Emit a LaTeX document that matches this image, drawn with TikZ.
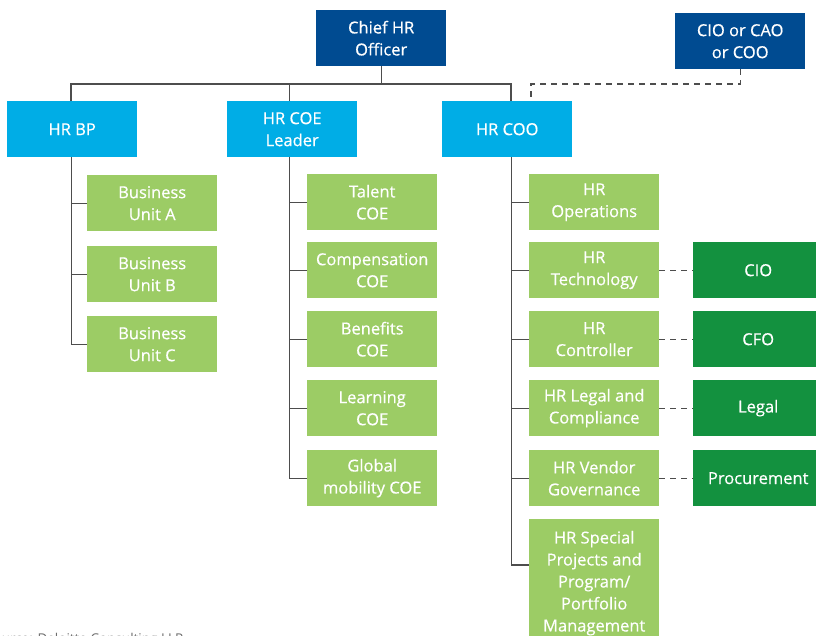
\documentclass[tikz,border=0pt]{standalone}
\usepackage{fontspec}
\setmainfont{Open Sans}
\newfontfamily\boxfont{Open Sans}[FakeBold=0.5]
\definecolor{dblue}{HTML}{004B91}
\definecolor{lblue}{HTML}{00ADE6}
\definecolor{lgreen}{HTML}{9CCC65}
\definecolor{dgreen}{HTML}{13913F}
\definecolor{conn}{HTML}{4D4D4D}
\definecolor{srcgray}{HTML}{6D6D6D}
\begin{document}
\begin{tikzpicture}[x=1pt,y=-1pt,
  box/.style={rectangle, inner sep=0pt, minimum width=130pt, minimum height=56pt,
    align=center, text=white, font=\boxfont\fontsize{16.5}{22}\selectfont, anchor=north west},
  topbox/.style={box, fill=dblue},
  midbox/.style={box, fill=lblue},
  unitbox/.style={box, fill=lgreen},
  extbox/.style={box, fill=dgreen},
  solidline/.style={draw=conn, line width=1.3pt},
  dashline/.style={draw=conn, line width=1.3pt, dash pattern=on 6pt off 5pt}]
\useasboundingbox (0,0) rectangle (816,635);
% top level
\node[topbox] (chief) at (316,10) {Chief HR\\Officer};
\node[topbox] (cio) at (675,13) {CIO or CAO\\or COO};
% second level
\node[midbox] (hrbp) at (7,101) {HR BP};
\node[midbox] (coel) at (227,101) {HR COE\\Leader};
\node[midbox] (hrcoo) at (442,101) {HR COO};
% HR BP children
\node[unitbox] (bua) at (87,175) {Business\\Unit A};
\node[unitbox] (bub) at (87,246) {Business\\Unit B};
\node[unitbox] (buc) at (87,316) {Business\\Unit C};
% COE children
\node[unitbox] (talent) at (307,174) {Talent\\COE};
\node[unitbox] (comp) at (307,242) {Compensation\\COE};
\node[unitbox] (benef) at (307,311) {Benefits\\COE};
\node[unitbox] (learn) at (307,380) {Learning\\COE};
\node[unitbox] (glob) at (307,450) {Global\\mobility COE};
% COO children
\node[unitbox] (ops) at (529,174) {HR\\Operations};
\node[unitbox] (tech) at (529,242) {HR\\Technology};
\node[unitbox] (ctrl) at (529,311) {HR\\Controller};
\node[unitbox] (legal) at (529,380) {HR Legal and\\Compliance};
\node[unitbox] (vend) at (529,450) {HR Vendor\\Governance};
\node[unitbox, minimum height=124pt, text depth=0pt] (spec) at (529,519) {HR Special\\Projects and\\Program/\\Portfolio\\Management};
% external
\node[extbox] (xcio) at (693,242) {CIO};
\node[extbox] (xcfo) at (693,311) {CFO};
\node[extbox] (xlegal) at (693,380) {Legal};
\node[extbox] (xproc) at (693,450) {Procurement};
% source (cut off at the lower edge, as in the reference)
\node[anchor=base west, text=srcgray, font=\fontsize{13.5}{16}\selectfont, inner sep=0pt] (src) at (-14,643.5) {Source: Deloitte Consulting LLP};
% coordinates
\coordinate (busL) at (71,84);
\coordinate (busM) at (289.5,84);
\coordinate (busR) at (511,84);
\coordinate (t1) at ([xshift=-1pt]hrbp.south);
\coordinate (t2) at ([xshift=-2.5pt]coel.south);
\coordinate (t3) at ([xshift=4pt]hrcoo.south);
\coordinate (dc) at (531,84);
\coordinate (specb) at ([yshift=-46pt]spec.north west);
% top connectors
\draw[solidline] (chief.south) -- (chief.south |- busL);
\draw[solidline] (busL |- hrbp.north) -- (busL) -- (busR) -- (busR |- hrcoo.north);
\draw[solidline] (busM) -- (busM |- coel.north);
\draw[dashline] (cio.south) |- (dc) -- (dc |- hrcoo.north);
% HR BP tree
\draw[solidline] (t1) |- (buc.west);
\draw[solidline] (bua.west) -- (bua.west -| t1);
\draw[solidline] (bub.west) -- (bub.west -| t1);
% COE tree
\draw[solidline] (t2) |- (glob.west);
\foreach \n in {talent,comp,benef,learn}{\draw[solidline] (\n.west) -- (\n.west -| t2);}
% COO tree
\draw[solidline] (t3) |- (specb);
\foreach \n in {ops,tech,ctrl,legal,vend}{\draw[solidline] (\n.west) -- (\n.west -| t3);}
% dashed links
\draw[dashline] (tech.east) -- (xcio.west);
\draw[dashline] (ctrl.east) -- (xcfo.west);
\draw[dashline] (legal.east) -- (xlegal.west);
\draw[dashline] (vend.east) -- (xproc.west);
\end{tikzpicture}
\end{document}
